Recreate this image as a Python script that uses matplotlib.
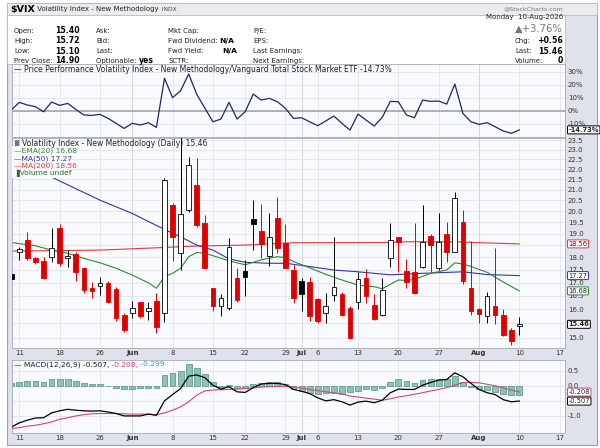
import numpy as np
import matplotlib
matplotlib.use('Agg')
import matplotlib.pyplot as plt
from matplotlib.patches import Rectangle
from matplotlib.ticker import NullLocator, NullFormatter

W, H = 600, 448

# ---- values ----
# trading-day index: 0 = Mon 11-May-2026, 62 = Mon 10-Aug-2026, -1 = bar cut by the left edge
days = list(range(-1, 63))
opens = [17.34, 18.21, 18.74, 17.96, 17.86, 18.03, 19.23, 17.96, 18.14, 17.56, 16.80,
         16.88, 16.97, 16.76, 15.80, 15.86, 16.26, 15.94, 16.31, 15.86, 20.27, 18.17,
         20.05, 21.22, 19.45, 16.78, 16.13, 16.04, 17.19, 17.45, 19.62, 19.11, 18.07,
         19.67, 18.58, 17.49, 17.07, 17.03, 16.38, 15.86, 16.53, 16.55, 16.04, 16.28,
         17.16, 16.16, 15.80, 17.99, 18.86, 17.45, 17.40, 17.63, 18.90, 17.56, 18.99,
         18.23, 19.52, 16.78, 16.01, 15.74, 16.13, 15.80, 15.27, 15.40]
highs = [17.40, 18.44, 19.05, 18.03, 18.03, 19.23, 19.40, 18.30, 18.21, 17.63, 17.03,
         17.23, 17.07, 16.84, 15.86, 16.31, 16.26, 16.28, 16.59, 21.54, 20.35, 24.00,
         22.63, 22.55, 19.82, 16.80, 16.55, 18.79, 17.56, 17.90, 20.50, 20.30, 19.89,
         20.66, 19.40, 17.69, 17.16, 17.23, 16.40, 16.59, 18.86, 16.63, 16.13, 17.40,
         17.53, 16.55, 17.19, 19.45, 18.86, 17.94, 19.45, 20.27, 18.99, 19.89, 19.49,
         20.87, 20.05, 18.69, 16.04, 16.63, 18.37, 16.01, 15.33, 15.72]
lows = [17.10, 17.90, 17.88, 17.72, 17.14, 17.80, 17.67, 17.63, 17.06, 16.59, 16.40,
        16.53, 16.22, 15.56, 15.18, 15.68, 15.68, 15.62, 15.15, 15.53, 17.86, 17.49,
        19.97, 19.30, 17.53, 15.94, 15.74, 15.98, 16.28, 16.47, 18.30, 17.99, 17.67,
        18.17, 17.56, 16.22, 15.92, 15.56, 15.50, 15.50, 16.31, 15.74, 14.95, 16.01,
        16.22, 15.62, 15.74, 17.63, 17.42, 16.80, 16.55, 17.56, 17.42, 17.49, 17.80,
        18.21, 16.93, 15.80, 15.50, 15.50, 15.46, 15.07, 14.75, 15.10]
closes = [17.14, 18.34, 17.99, 17.83, 17.19, 18.37, 17.76, 18.04, 17.42, 16.72, 16.68,
          16.97, 16.26, 15.70, 15.27, 16.04, 15.74, 16.04, 15.38, 21.46, 18.86, 19.85,
          22.21, 19.37, 17.58, 16.13, 16.40, 18.41, 16.34, 17.23, 19.40, 18.54, 18.86,
          18.37, 17.58, 16.40, 16.55, 15.74, 15.56, 16.10, 16.84, 15.80, 14.98, 17.14,
          16.47, 15.65, 16.72, 18.72, 18.62, 17.03, 16.59, 18.65, 18.51, 18.62, 18.21,
          20.61, 17.06, 15.94, 15.82, 16.47, 15.78, 15.09, 14.90, 15.46]
prev_close = 16.90  # close before the first bar

ema20_days = [-1, 2, 4, 6, 8, 10, 12, 14, 16, 17, 18, 19, 20, 21, 22, 23, 24, 26, 28, 30,
              32, 33, 34, 36, 38, 40, 42, 44, 45, 46, 47, 48, 49, 51, 53, 54, 55, 56, 58,
              60, 62]
ema20 = [18.62, 18.48, 18.30, 18.17, 17.96, 17.78, 17.56, 17.29, 16.99, 16.78, 17.23,
         17.36, 17.56, 18.03, 18.20, 18.17, 18.07, 17.86, 17.70, 17.90, 18.03, 17.99,
         17.83, 17.58, 17.32, 17.10, 16.90, 16.84, 16.76, 16.93, 17.10, 17.08, 17.12,
         17.36, 17.49, 17.78, 17.73, 17.63, 17.40, 17.02, 16.68]
ma50_days = [-1, 4, 10, 14, 18, 20, 22, 24, 26, 28, 31, 33, 36, 39, 42, 46, 50, 55, 58, 62]
ma50 = [22.60, 21.60, 20.50, 19.89, 19.18, 18.86, 18.51, 18.30, 17.94, 17.80, 17.76,
        17.76, 17.63, 17.49, 17.42, 17.30, 17.36, 17.42, 17.31, 17.27]
ma200_days = [-1, 10, 18, 22, 28, 34, 46, 48, 54, 58, 62]
ma200 = [18.26, 18.30, 18.41, 18.47, 18.51, 18.61, 18.62, 18.65, 18.65, 18.60, 18.56]

# price performance vs VTI, percent
perf = [0.5, 6.4, 4.4, 3.1, -0.8, 6.7, 4.1, 5.6, 1.0, -3.3, -3.6, -2.8, -5.9, -9.7,
        -13.6, -9.7, -11.0, -9.2, -12.8, 24.9, 10.0, 15.4, 28.2, 12.6, 2.1, -8.5, -6.4,
        6.4, -6.4, -0.8, 12.8, 8.2, 9.5, 6.9, 1.8, -5.9, -5.4, -8.5, -11.5, -7.9, -4.1,
        -9.7, -14.9, -2.6, -7.2, -11.8, -5.1, 7.2, 6.9, -3.3, -5.4, 8.2, 7.2, 7.4, 5.1,
        20.5, -2.1, -8.5, -10.5, -9.2, -12.3, -15.6, -17.4, -14.73]

macd = [-1.37, -1.23, -1.14, -1.07, -1.06, -0.90, -0.83, -0.78, -0.81, -0.83, -0.84,
        -0.83, -0.87, -0.92, -1.00, -1.00, -1.00, -0.94, -0.98, -0.50, -0.29, -0.09,
        0.32, 0.36, 0.27, 0.02, -0.11, -0.03, -0.20, -0.22, -0.06, 0.06, 0.08, 0.08,
        0.04, -0.12, -0.18, -0.26, -0.40, -0.50, -0.46, -0.53, -0.64, -0.54, -0.51,
        -0.56, -0.48, -0.23, -0.11, -0.12, -0.12, 0.02, 0.11, 0.19, 0.21, 0.43, 0.30,
        0.08, -0.12, -0.23, -0.29, -0.46, -0.53, -0.507]
signal = [-1.42, -1.39, -1.34, -1.31, -1.26, -1.20, -1.11, -1.06, -1.00, -0.96, -0.93,
          -0.92, -0.92, -0.92, -0.93, -0.94, -0.94, -0.94, -0.96, -0.90, -0.81, -0.70,
          -0.53, -0.31, -0.17, -0.14, -0.13, -0.12, -0.11, -0.09, -0.07, -0.04, -0.03,
          -0.02, -0.01, -0.03, -0.08, -0.12, -0.16, -0.20, -0.23, -0.27, -0.34, -0.37,
          -0.41, -0.44, -0.48, -0.43, -0.37, -0.33, -0.28, -0.23, -0.17, -0.12, -0.06,
          0.02, 0.11, 0.11, 0.10, 0.05, 0.00, -0.07, -0.14, -0.208]
hist = [0.08, 0.11, 0.17, 0.17, 0.13, 0.21, 0.21, 0.21, 0.17, 0.08, 0.06, 0.06, 0.01,
        -0.07, -0.12, -0.09, -0.07, -0.06, -0.06, 0.36, 0.43, 0.49, 0.71, 0.58, 0.39,
        0.11, -0.03, 0.04, -0.06, -0.06, 0.07, 0.10, 0.11, 0.11, 0.07, -0.09, -0.17,
        -0.23, -0.26, -0.23, -0.23, -0.26, -0.20, -0.17, -0.12, -0.14, -0.06, 0.12, 0.21,
        0.16, 0.10, 0.19, 0.24, 0.21, 0.21, 0.32, 0.13, -0.03, -0.12, -0.14, -0.20,
        -0.26, -0.31, -0.299]

tick_days = [0, 5, 10, 14, 19, 24, 28, 33, 35, 37, 42, 47, 52, 57, 62, 67]
tick_labels = ['11', '18', '26', 'Jun', '8', '15', '22', '29', 'Jul', '6', '13', '20',
               '27', 'Aug', '10', '17']
month_labels = ['Jun', 'Jul', 'Aug']

price_ticks = [15.0 + 0.5 * k for k in range(18)]
price_hidden = [15.5, 18.5]      # labels covered by the value tags
perf_ticks = [30, 20, 10, 0, -10]
macd_ticks = [0.5, 0.0, -0.5, -1.0]
macd_hidden = [-0.5]

# ---- styling ----
BG = '#dfe2ea'
PANEL = '#f9fafd'
GRID = '#e1e4ec'
MONTH_GRID = '#c9cdd8'
TXT = '#333333'
RED = '#e00000'
XLIM = (-0.97, 67.66)


def fx(x):
    return x / W


def fy(y):
    return 1 - y / H


def rect(x0, y0, x1, y1):
    return [x0 / W, 1 - y1 / H, (x1 - x0) / W, (y1 - y0) / H]


fig = plt.figure(figsize=(6, 4.48), dpi=100, facecolor='white')
renderer = fig.canvas.get_renderer()

fig.add_artist(Rectangle((fx(7), fy(445)), 590 / W, 442 / H, transform=fig.transFigure,
                         facecolor=BG, edgecolor='#9aa0b0', lw=0.8, zorder=-5))
fig.add_artist(Rectangle((fx(7), fy(15)), 590 / W, 12 / H, transform=fig.transFigure,
                         facecolor='#ececef', edgecolor='#b8bcc6', lw=0.6, zorder=-4))
fig.add_artist(Rectangle((fx(7), fy(64)), 558 / W, 49 / H, transform=fig.transFigure,
                         facecolor='white', edgecolor='#b8bcc6', lw=0.6, zorder=-4))


def text_run(x, y, parts):
    # parts: (text, color, size, weight)
    for s, color, size, weight in parts:
        t = fig.text(fx(x), fy(y), s, color=color, fontsize=size, fontweight=weight,
                     ha='left', va='center')
        x += t.get_window_extent(renderer).width
    return x


# header
text_run(10, 9.5, [('$VIX', 'black', 6.8, 'bold'),
                   (' Volatility Index - New Methodology', '#222222', 5.0, 'normal'),
                   ('  INDX', '#444444', 4.3, 'normal')])
fig.text(fx(563), fy(8.5), '@StockCharts.com', color='#777777', fontsize=4.5, ha='right',
         va='center')

rows = [30.7, 40.8, 51.0, 60.8]
col1 = [('Open:', '15.40'), ('High:', '15.72'), ('Low:', '15.10'), ('Prev Close:', '14.90')]
for (lab, val), y in zip(col1, rows):
    fig.text(fx(14), fy(y), lab, fontsize=5, color='#222', va='center')
    fig.text(fx(55), fy(y), val, fontsize=5.6, color='black', fontweight='bold', va='center')
for lab, y in zip(['Ask:', 'Bid:', 'Last:'], rows):
    fig.text(fx(96), fy(y), lab, fontsize=5, color='#222', va='center')
text_run(96, rows[3], [('Optionable: ', '#222222', 5, 'normal'),
                       ('yes', 'black', 5.6, 'bold')])
for lab, y in zip(['Mkt Cap:', 'Fwd Dividend:', 'Fwd Yield:', 'SCTR:'], rows):
    fig.text(fx(168), fy(y), lab, fontsize=5, color='#222', va='center')
fig.text(fx(219), fy(rows[1]), 'N/A', fontsize=5.4, fontweight='bold', va='center')
fig.text(fx(222), fy(rows[2]), 'N/A', fontsize=5.4, fontweight='bold', va='center')
for lab, y in zip(['P/E:', 'EPS:', 'Last Earnings:', 'Next Earnings:'], rows):
    fig.text(fx(253), fy(y), lab, fontsize=5, color='#222', va='center')

fig.text(fx(563), fy(17.5), 'Monday  10-Aug-2026', fontsize=5, color='#222', ha='right',
         va='center')
fig.text(fx(563), fy(29), '\u25b2+3.76%', fontsize=7.2, color='#777777', ha='right',
         va='center')
for lab, val, y in [('Chg:', '+0.56', rows[1]), ('Last:', '15.46', rows[2]),
                    ('Volume:', '0', rows[3])]:
    fig.text(fx(515), fy(y), lab, fontsize=5, color='#222', va='center')
    fig.text(fx(563), fy(y), val, fontsize=5.6, fontweight='bold', ha='right', va='center')


def style_panel(ax):
    ax.set_facecolor(PANEL)
    ax.set_xlim(*XLIM)
    for s in ax.spines.values():
        s.set_color('#a4a9b6')
        s.set_linewidth(0.6)
    ax.yaxis.tick_right()
    ax.tick_params(axis='both', length=0, labelsize=5, labelcolor=TXT, pad=2)
    ax.set_xticks(tick_days)
    for d, lab in zip(tick_days, tick_labels):
        ax.axvline(d, color=MONTH_GRID if lab in month_labels else GRID, lw=0.6, zorder=0)


def date_labels(ax):
    ax.set_xticklabels(tick_labels)
    ax.tick_params(axis='x', pad=1.5)
    for lbl in ax.get_xticklabels():
        if lbl.get_text() in month_labels:
            lbl.set_fontweight('bold')


def tag(ax, y, text, edge, bold=False):
    ax.annotate(text, xy=(1.0, y), xycoords=('axes fraction', 'data'), xytext=(2.5, 0),
                textcoords='offset points', ha='left', va='center', fontsize=4.8,
                fontweight='bold' if bold else 'normal', color='#222',
                bbox=dict(boxstyle='round,pad=0.15', fc='white', ec=edge, lw=0.7),
                annotation_clip=False, zorder=6)


# ---- price performance panel ----
ax_p = fig.add_axes(rect(11.5, 64, 565, 137))
style_panel(ax_p)
ax_p.set_ylim(-20.2, 35.9)
ax_p.set_yticks(perf_ticks, labels=[f'{v}%' for v in perf_ticks])
ax_p.set_xticklabels([])
for v in perf_ticks:
    ax_p.axhline(v, color=GRID, lw=0.6, zorder=0)
ax_p.axhline(0, color='#9a9ea8', lw=1.1, zorder=1)
ax_p.plot(days, perf, color='#1c2a66', lw=0.9, zorder=3)
tag(ax_p, perf[-1], '-14.73%', 'black', bold=True)
text_run(14, 70, [('\u2014 ', '#1c2a66', 5.5, 'normal'),
                  ('Price Performance Volatility Index - New Methodology/Vanguard Total '
                   'Stock Market ETF -14.73%', '#222222', 5.5, 'normal')])

# ---- main price panel ----
ax_m = fig.add_axes(rect(11.5, 138, 565, 348))
style_panel(ax_m)
ax_m.set_yscale('log')
ax_m.set_ylim(14.65, 23.61)
ax_m.set_yticks(price_ticks,
                labels=['' if v in price_hidden else f'{v:.1f}' for v in price_ticks])
ax_m.yaxis.set_minor_locator(NullLocator())
ax_m.yaxis.set_minor_formatter(NullFormatter())
for v in price_ticks:
    ax_m.axhline(v, color=GRID, lw=0.6, zorder=0)
date_labels(ax_m)

ax_m.plot(ma200_days, ma200, color='#e23a3a', lw=0.8, zorder=2)
ax_m.plot(ma50_days, ma50, color='#3535a8', lw=0.8, zorder=2)
ax_m.plot(ema20_days, ema20, color='#2e8b2e', lw=0.8, zorder=2)

prev = prev_close
for d, o, h, l, c in zip(days, opens, highs, lows, closes):
    col = RED if c < prev else 'black'
    ax_m.vlines(d, l, h, color=col, lw=0.7, zorder=3)
    lo, hi = min(o, c), max(o, c)
    face = col if c < o else 'white'
    ax_m.bar(d, hi - lo, bottom=lo, width=0.58, color=face, edgecolor=col, lw=0.6,
             zorder=4)
    prev = c

ax_m.add_patch(Rectangle((0, (348 - 178) / 210), (68 - 11.5) / 553.5, 32 / 210,
                         transform=ax_m.transAxes, facecolor=PANEL, edgecolor='none',
                         zorder=5))
fig.text(fx(22), fy(143), 'Volatility Index - New Methodology (Daily) 15.46', fontsize=5.5,
         color='#222', va='center')
fig.text(fx(14), fy(143), '\u2593', fontsize=4, color='#555', va='center')
for y, s, col in [(151, '\u2014EMA(20) 16.68', '#2e8b2e'), (158.5, '\u2014MA(50) 17.27', '#3535a8'),
                  (166, '\u2014MA(200) 18.56', '#e23a3a'), (173.5, '\u2590Volume undef', '#2e6b2e')]:
    fig.text(fx(14), fy(y), s, fontsize=5.4, color=col, va='center')

tag(ax_m, 18.56, '18.56', '#e23a3a')
tag(ax_m, 17.27, '17.27', '#3535a8')
tag(ax_m, 16.68, '16.68', '#2e8b2e')
tag(ax_m, closes[-1], '15.46', 'black', bold=True)

# ---- MACD panel ----
ax_d = fig.add_axes(rect(11.5, 360, 565, 433))
style_panel(ax_d)
ax_d.set_ylim(-1.567, 0.857)
ax_d.set_yticks(macd_ticks,
                labels=['' if v in macd_hidden else f'{v:.1f}' for v in macd_ticks])
for v in macd_ticks:
    ax_d.axhline(v, color=GRID, lw=0.6, zorder=0)
date_labels(ax_d)
ax_d.bar(days, hist, width=0.72, color='#8cc4b4', edgecolor='#4f8f80', lw=0.5, zorder=2)
ax_d.plot(days, signal, color='#cc4a6e', lw=0.8, zorder=3)
ax_d.plot(days, macd, color='black', lw=0.9, zorder=4)
tag(ax_d, signal[-1], '-0.208', '#cc4a6e')
tag(ax_d, macd[-1], '-0.507', 'black')
text_run(14, 364.5, [('\u2014 MACD(12,26,9) -0.507,', '#222222', 5.4, 'normal'),
                     (' -0.208,', '#cc4a6e', 5.4, 'normal'),
                     (' -0.299', '#4f9f88', 5.4, 'normal')])

fig.savefig('out.png', dpi=100, facecolor='white')
